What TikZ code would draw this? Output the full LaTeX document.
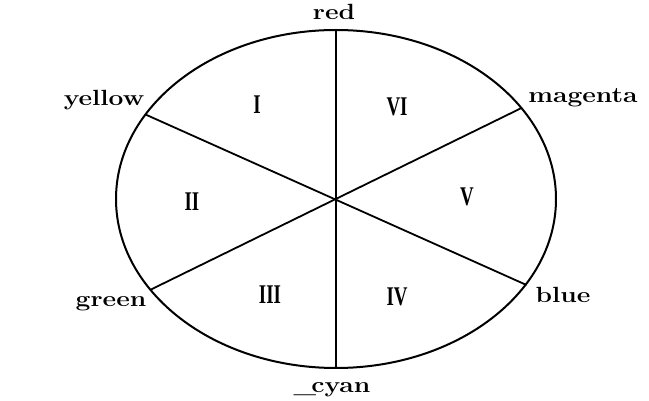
\documentclass[tikz,border=0pt]{standalone}
\usepackage{graphicx}
\usepackage{fontspec}
\newfontfamily\numfont{Liberation Serif}
\tikzset{
  rim/.style={line width=2pt},
  spoke/.style={line width=1.8pt},
  lbl/.style={inner sep=0pt, anchor=base, font=\fontsize{22}{22}\selectfont\bfseries},
  num/.style={inner sep=0pt, anchor=center, font=\numfont\fontsize{27}{27}\selectfont\bfseries}
}
\newcommand{\wide}[1]{\scalebox{1.2}[1]{#1}}
\newcommand{\narrow}[1]{\scalebox{0.7}[1]{#1}}
\begin{document}
\begin{tikzpicture}[x=1pt,y=-1pt]
\useasboundingbox (0,0) rectangle (649,401);
\coordinate (c) at (336,199);
\coordinate (pr) at (336,30);
\coordinate (pc) at (336,368);
\coordinate (py) at (145.5,114.5);
\coordinate (pb) at (526.5,285);
\coordinate (pm) at (521.5,108);
\coordinate (pg) at (151,289.5);
\draw[rim] (c) ellipse [x radius=220, y radius=169];
\draw[spoke] (pr) -- (pc);
\draw[spoke] (py) -- (pb);
\draw[spoke] (pm) -- (pg);
\node[lbl] (red) at (334,20) {\wide{red}};
\node[lbl] (yellow) at (104,106) {\wide{yellow}};
\node[lbl] (magenta) at (583,103) {\wide{magenta}};
\node[lbl] (green) at (111,307) {\wide{green}};
\node[lbl] (blue) at (563,303) {\wide{blue}};
\node[lbl] (cyan) at (332,392) {\wide{\_\kern-4pt cyan}};
\node[num] (n1) at (257,105) {\narrow{I}};
\node[num] (n6) at (397,107) {\narrow{VI}};
\node[num] (n2) at (192,202) {\narrow{II}};
\node[num] (n5) at (467,197) {\narrow{V}};
\node[num] (n3) at (270,295) {\narrow{III}};
\node[num] (n4) at (397,297) {\narrow{IV}};
\end{tikzpicture}
\end{document}
